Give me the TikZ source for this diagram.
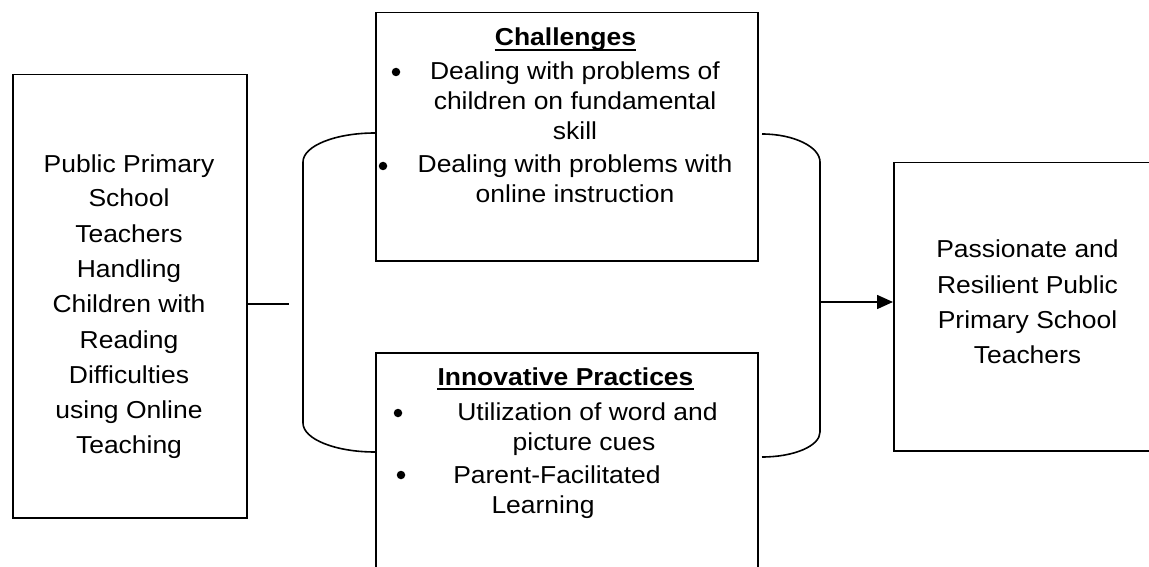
\documentclass[tikz,border=0pt]{standalone}
\usepackage{fontspec}
\setmainfont{Liberation Sans}[FakeStretch=1.08]
\usetikzlibrary{arrows.meta}
\tikzset{
  box/.style={draw, line width=1.5pt, inner sep=0, anchor=north west},
  txt/.style={inner sep=0, anchor=base, font=\fontsize{24.5}{30}\selectfont},
  head/.style={txt, font=\fontsize{24.5}{30}\selectfont\bfseries},
  bul/.style={circle, fill, inner sep=0, minimum size=8.5pt},
  conn/.style={line width=1.6pt},
}
\begin{document}
\begin{tikzpicture}[x=1pt,y=-1pt]
\useasboundingbox (0,0) rectangle (1149,567);
\clip (0,0) rectangle (1149,567);
% boxes
\node[box, minimum width=234pt, minimum height=443pt] (left) at (12,74) {};
\node[box, minimum width=382pt, minimum height=248pt] (chal) at (375,12) {};
\node[box, minimum width=382pt, minimum height=260pt] (inno) at (375,352) {};
\node[box, minimum width=290pt, minimum height=288pt] (right) at (893,162) {};
% left text
\node[txt] (l1) at (129,172) {Public Primary};
\node[txt] (l2) at (129,207) {School};
\node[txt] (l3) at (129,242) {Teachers};
\node[txt] (l4) at (129,277) {Handling};
\node[txt] (l5) at (129,312) {Children with};
\node[txt] (l6) at (129,348) {Reading};
\node[txt] (l7) at (129,383) {Difficulties};
\node[txt] (l8) at (129,418) {using Online};
\node[txt] (l9) at (129,453) {Teaching};
% challenges
\node[head] (ch) at (565.5,46) {Challenges};
\draw[line width=1.6pt] ([yshift=-4pt]ch.base west) -- ([yshift=-4pt]ch.base east);
\node[bul] (cb1) at (396,72) {};
\node[txt] (c1) at (575,80) {Dealing with problems of};
\node[txt] (c2) at (575,110) {children on fundamental};
\node[txt] (c3) at (575,140) {skill};
\node[bul] (cb2) at (383,166) {};
\node[txt] (c4) at (575,173) {Dealing with problems with};
\node[txt] (c5) at (575,203) {online instruction};
% innovative practices
\node[head] (ih) at (565.5,385) {Innovative Practices};
\draw[line width=1.6pt] ([yshift=-4pt]ih.base west) -- ([yshift=-4pt]ih.base east);
\node[bul] (ib1) at (398,413) {};
\node[txt] (i1) at (587.5,420) {Utilization of word and};
\node[txt] (i2) at (584,450) {picture cues};
\node[bul] (ib2) at (401,475) {};
\node[txt] (i3) at (557,483) {Parent-Facilitated};
\node[txt] (i4) at (543,513) {Learning};
% right text
\node[txt] (r1) at (1027.5,257) {Passionate and};
\node[txt] (r2) at (1027.5,293) {Resilient Public};
\node[txt] (r3) at (1027.5,328) {Primary School};
\node[txt] (r4) at (1027.5,363) {Teachers};
% connectors
\coordinate (lc) at (289,304);
\draw[conn] (left.east |- lc) -- (lc);
\coordinate (lbt) at (375,133);
\coordinate (lbb) at (375,452);
\draw[conn] (lbt) .. controls (335,133) and (303,146) .. (303,162)
  -- (303,423) .. controls (303,439) and (335,452) .. (lbb);
\coordinate (rbt) at (762,134);
\coordinate (rbb) at (762,457);
\draw[conn] (rbt) .. controls (794,134) and (820,147) .. (820,162)
  -- (820,432) .. controls (820,446) and (794,457) .. (rbb);
\coordinate (rb) at (820,302);
\draw[conn, -{Triangle[length=16pt,width=14pt]}] (rb) -- (rb -| right.west);
\end{tikzpicture}
\end{document}
